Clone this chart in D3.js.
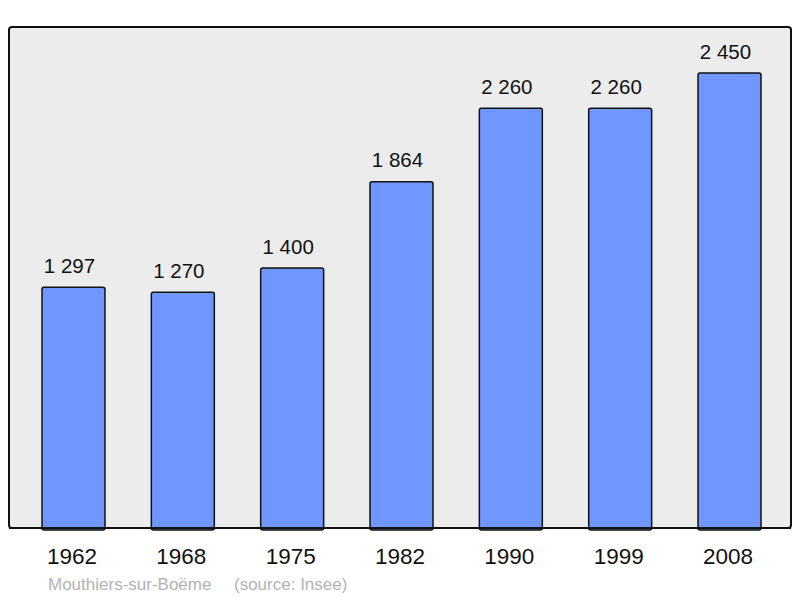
<!DOCTYPE html>
<html>
<head>
<meta charset="utf-8">
<script src="https://cdnjs.cloudflare.com/ajax/libs/d3/7.8.5/d3.min.js"></script>
<style>
  body { margin: 0; background: #fff; }
  text { font-family: "Liberation Sans", Arial, sans-serif; }
</style>
</head>
<body>
<div id="root"></div>
<script>
var years = ['1962', '1968', '1975', '1982', '1990', '1999', '2008']
var population = [1297, 1270, 1400, 1864, 2260, 2260, 2450]
var labels = ['1 297', '1 270', '1 400', '1 864', '2 260', '2 260', '2 450']
var commune = 'Mouthiers-sur-Boëme'
var source = '(source: Insee)'

var width = 800, height = 598
var svg = d3.select('#root').append('svg').attr('width', width).attr('height', height)

// cadre gris
svg.append('rect')
    .attr('x', 9).attr('y', 27)
    .attr('width', 782).attr('height', 501)
    .attr('rx', 3)
    .attr('fill', '#ececec')
    .attr('stroke', '#111')
    .attr('stroke-width', 2)

var x = d3.scaleBand().domain(years).range([42, 761]).paddingInner(0.424).paddingOuter(0)
var y = d3.scaleLinear().domain([0, 2450]).range([528, 73])

var data = years.map(function (d, i) { return { year: d, v: population[i], label: labels[i] } })

svg.selectAll('rect.bar').data(data).enter().append('rect')
    .attr('class', 'bar')
    .attr('x', function (d) { return x(d.year) })
    .attr('y', function (d) { return y(d.v) })
    .attr('width', x.bandwidth())
    .attr('height', function (d) { return y(0) - y(d.v) + 2 })
    .attr('rx', 2)
    .attr('fill', '#7097ff')
    .attr('stroke', '#111')
    .attr('stroke-width', 1.5)

// redraw bottom border over bars
svg.append('line')
    .attr('x1', 9).attr('x2', 791).attr('y1', 528).attr('y2', 528)
    .attr('stroke', '#111').attr('stroke-width', 2)

svg.selectAll('text.val').data(data).enter().append('text')
    .attr('class', 'val')
    .attr('x', function (d) { return x(d.year) + x.bandwidth() / 2 - 4 })
    .attr('y', function (d) { return y(d.v) - 14.5 })
    .attr('text-anchor', 'middle')
    .attr('font-size', 20.5)
    .attr('fill', '#111')
    .text(function (d) { return d.label })

svg.selectAll('text.year').data(years).enter().append('text')
    .attr('class', 'year')
    .attr('x', function (d) { return x(d) + x.bandwidth() / 2 - 1.5 })
    .attr('y', 564)
    .attr('text-anchor', 'middle')
    .attr('font-size', 22.5)
    .attr('fill', '#111')
    .text(function (d) { return d })

svg.append('text')
    .attr('x', 48).attr('y', 590)
    .attr('font-size', 17)
    .attr('fill', '#b3b3b3')
    .text(commune)
svg.append('text')
    .attr('x', 234).attr('y', 590)
    .attr('font-size', 17)
    .attr('fill', '#b3b3b3')
    .text(source)
</script>
</body>
</html>
